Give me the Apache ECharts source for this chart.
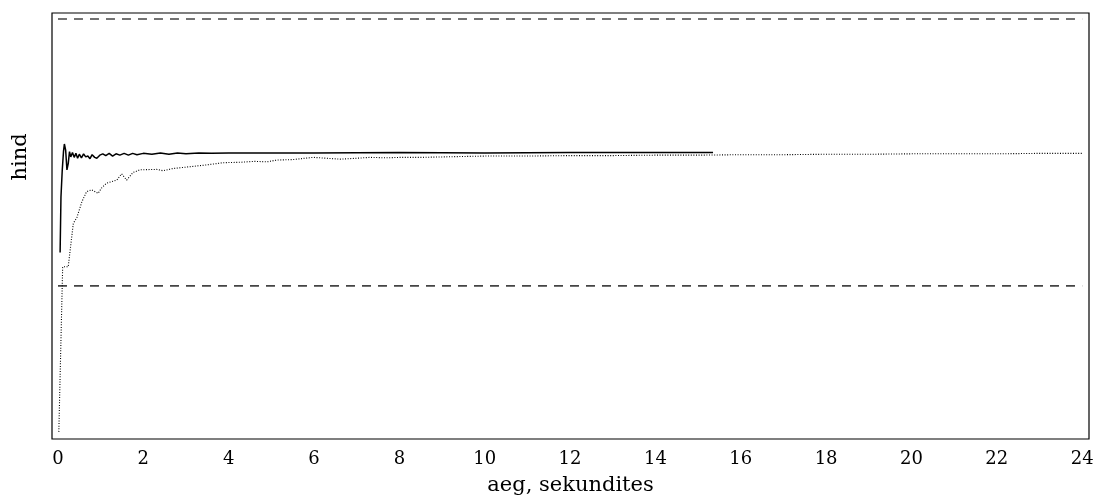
<!DOCTYPE html>
<html>
<head>
<meta charset="utf-8">
<script src="https://cdn.jsdelivr.net/npm/echarts@6/dist/echarts.min.js"></script>
<style>html,body{margin:0;padding:0;background:#fff}#c{width:1099px;height:499px}</style>
</head>
<body>
<div id="c"></div>
<script>
// x tick labels (seconds)
const xTicks = [0, 2, 4, 6, 8, 10, 12, 14, 16, 18, 20, 22, 24];
// bounds (dashed)
const upperBound = 100;
const lowerBound = 40;
const boundX = [0, 24];
// solid price line: [time, price]
const solidX = [0.05, 0.07, 0.10, 0.13, 0.15, 0.18, 0.21, 0.24, 0.27, 0.30, 0.34, 0.38, 0.42, 0.46, 0.50, 0.55, 0.60, 0.65, 0.70, 0.75, 0.80, 0.86, 0.91, 0.98, 1.05, 1.12, 1.20, 1.28, 1.36, 1.45, 1.55, 1.65, 1.75, 1.85, 2.0, 2.2, 2.4, 2.6, 2.8, 3.0, 3.3, 3.6, 4.0, 5.0, 6.0, 8.0, 10.0, 12.0, 14.0, 15.35];
const solidY = [47.5, 60.0, 66.0, 70.3, 71.9, 70.5, 66.1, 67.5, 70.2, 69.0, 70.0, 68.9, 69.8, 68.7, 69.6, 68.8, 69.7, 69.0, 69.2, 68.6, 69.5, 68.9, 68.7, 69.4, 69.7, 69.3, 69.8, 69.2, 69.7, 69.4, 69.8, 69.4, 69.8, 69.5, 69.8, 69.6, 69.9, 69.6, 69.9, 69.7, 69.9, 69.8, 69.9, 69.9, 69.9, 70.0, 69.9, 70.0, 70.0, 70.0];
// dotted line: [time, price]
const dotX = [0.02, 0.11, 0.24, 0.36, 0.44, 0.56, 0.67, 0.79, 0.94, 1.02, 1.14, 1.38, 1.49, 1.61, 1.76, 1.92, 2.31, 2.46, 2.70, 3.09, 3.48, 3.87, 4.27, 4.6, 4.9, 5.13, 5.5, 5.98, 6.3, 6.61, 7.0, 7.31, 7.7, 8.01, 8.5, 9.0, 9.5, 10.05, 11, 12, 13, 14, 15, 16, 17, 18, 19, 20, 21, 22, 23, 24];
const dotY = [7.2, 44.3, 44.3, 54.1, 55.3, 58.9, 61.2, 61.6, 60.8, 62.0, 63.1, 63.8, 65.2, 63.8, 65.5, 66.1, 66.2, 65.9, 66.4, 66.8, 67.2, 67.7, 67.8, 68.0, 67.9, 68.3, 68.4, 68.9, 68.7, 68.5, 68.7, 68.9, 68.8, 68.9, 68.9, 69.0, 69.1, 69.2, 69.2, 69.3, 69.3, 69.4, 69.4, 69.5, 69.5, 69.6, 69.6, 69.7, 69.7, 69.7, 69.8, 69.8];

const X_MIN = -0.14, X_MAX = 24.16;
const solid = solidX.map((x, i) => [x, solidY[i]]);
const dotted = dotX.map((x, i) => [x, dotY[i]]);
const font = 'DejaVu Serif';

const chart = echarts.init(document.getElementById('c'), null, {renderer: 'canvas'});
chart.setOption({
  animation: false,
  backgroundColor: '#fff',
  grid: {left: 52, right: 10, top: 13, bottom: 60, outerBoundsMode: 'none', containLabel: false, show: true, borderColor: '#000', borderWidth: 1.2, backgroundColor: 'transparent'},
  xAxis: {
    type: 'value', min: X_MIN, max: X_MAX,
    axisLine: {show: false}, axisTick: {show: false}, splitLine: {show: false},
    axisLabel: {customValues: xTicks, fontFamily: font, fontSize: 18, color: '#000', margin: 11},
    name: 'aeg, sekundites', nameLocation: 'middle', nameGap: 36,
    nameTextStyle: {fontFamily: font, fontSize: 21, color: '#000'}
  },
  yAxis: {
    type: 'value', min: 5.6, max: 101.35,
    axisLine: {show: false}, axisTick: {show: false}, splitLine: {show: false}, axisLabel: {show: false}
  },
  graphic: [{
    type: 'text', x: 21, y: 157, rotation: Math.PI / 2,
    style: {text: 'hind', fontFamily: font, fontSize: 21, fill: '#000', align: 'center', verticalAlign: 'middle'}
  }],
  series: [
    {type: 'line', data: boundX.map(x => [x, upperBound]), symbol: 'none', lineStyle: {color: '#444', width: 1.7, type: [9, 7]}},
    {type: 'line', data: boundX.map(x => [x, lowerBound]), symbol: 'none', lineStyle: {color: '#444', width: 1.7, type: [9, 7]}},
    {type: 'line', data: dotted, symbol: 'none', lineStyle: {color: '#000', width: 1.1, type: [1, 1.6]}},
    {type: 'line', data: solid, symbol: 'none', lineStyle: {color: '#000', width: 1.5}}
  ]
});
</script>
</body>
</html>
